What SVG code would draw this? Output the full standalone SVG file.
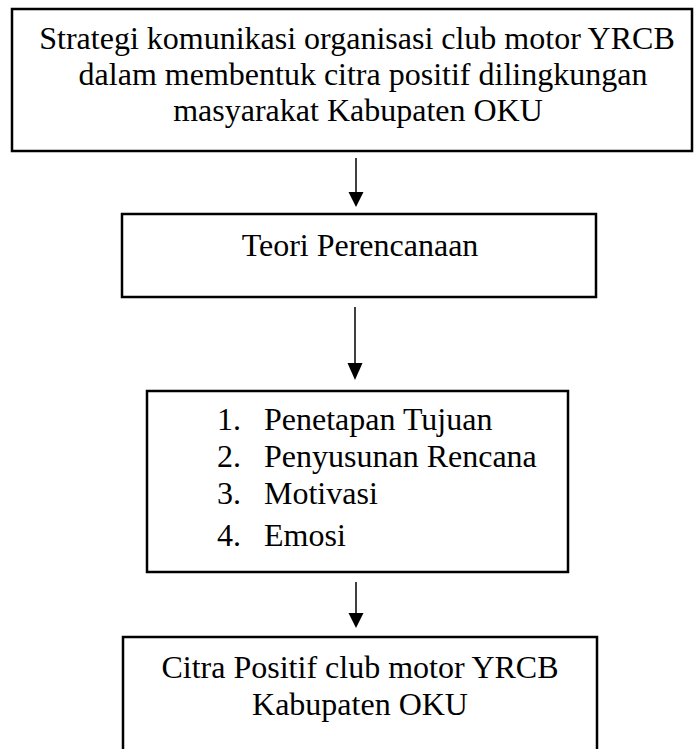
<svg xmlns="http://www.w3.org/2000/svg" width="695" height="749" viewBox="0 0 695 749">
  <style>
    .box { fill: #ffffff; stroke: #000000; stroke-width: 2.5; }
    .t { font-family: "Liberation Serif", "Times New Roman", serif; font-size: 32px; fill: #000000; }
    .c { text-anchor: middle; }
    .conn { stroke: #000000; stroke-width: 1.5; fill: none; }
    .head { fill: #000000; }
  </style>
  <rect width="695" height="749" fill="#ffffff"/>
  <g id="n1">
    <rect class="box" x="12" y="9" width="680" height="142"/>
    <text class="t c" x="357" y="49">Strategi komunikasi organisasi club motor YRCB</text>
    <text class="t c" x="363" y="85">dalam membentuk citra positif dilingkungan</text>
    <text class="t c" x="358" y="121">masyarakat Kabupaten OKU</text>
  </g>
  <g id="n2">
    <rect class="box" x="122" y="214" width="474" height="83"/>
    <text class="t c" x="360" y="256">Teori Perencanaan</text>
  </g>
  <g id="n3">
    <rect class="box" x="147" y="391" width="421" height="181"/>
    <text class="t" x="217" y="430">1.</text><text class="t" x="264" y="430">Penetapan Tujuan</text>
    <text class="t" x="217" y="467">2.</text><text class="t" x="264" y="467">Penyusunan Rencana</text>
    <text class="t" x="217" y="504">3.</text><text class="t" x="264" y="504">Motivasi</text>
    <text class="t" x="217" y="546">4.</text><text class="t" x="264" y="546">Emosi</text>
  </g>
  <g id="n4">
    <rect class="box" x="123" y="637" width="474" height="130"/>
    <text class="t c" x="360" y="678">Citra Positif club motor YRCB</text>
    <text class="t c" x="360" y="715">Kabupaten OKU</text>
  </g>
  <g id="connectors">
    <line class="conn" x1="356" y1="158" x2="356" y2="194"/>
    <polygon class="head" points="348.5,192 363.5,192 356,207"/>
    <line class="conn" x1="355" y1="307" x2="355" y2="365"/>
    <polygon class="head" points="347.5,363 362.5,363 355,380"/>
    <line class="conn" x1="356" y1="582" x2="356" y2="615"/>
    <polygon class="head" points="348.5,613 363.5,613 356,628"/>
  </g>
</svg>
